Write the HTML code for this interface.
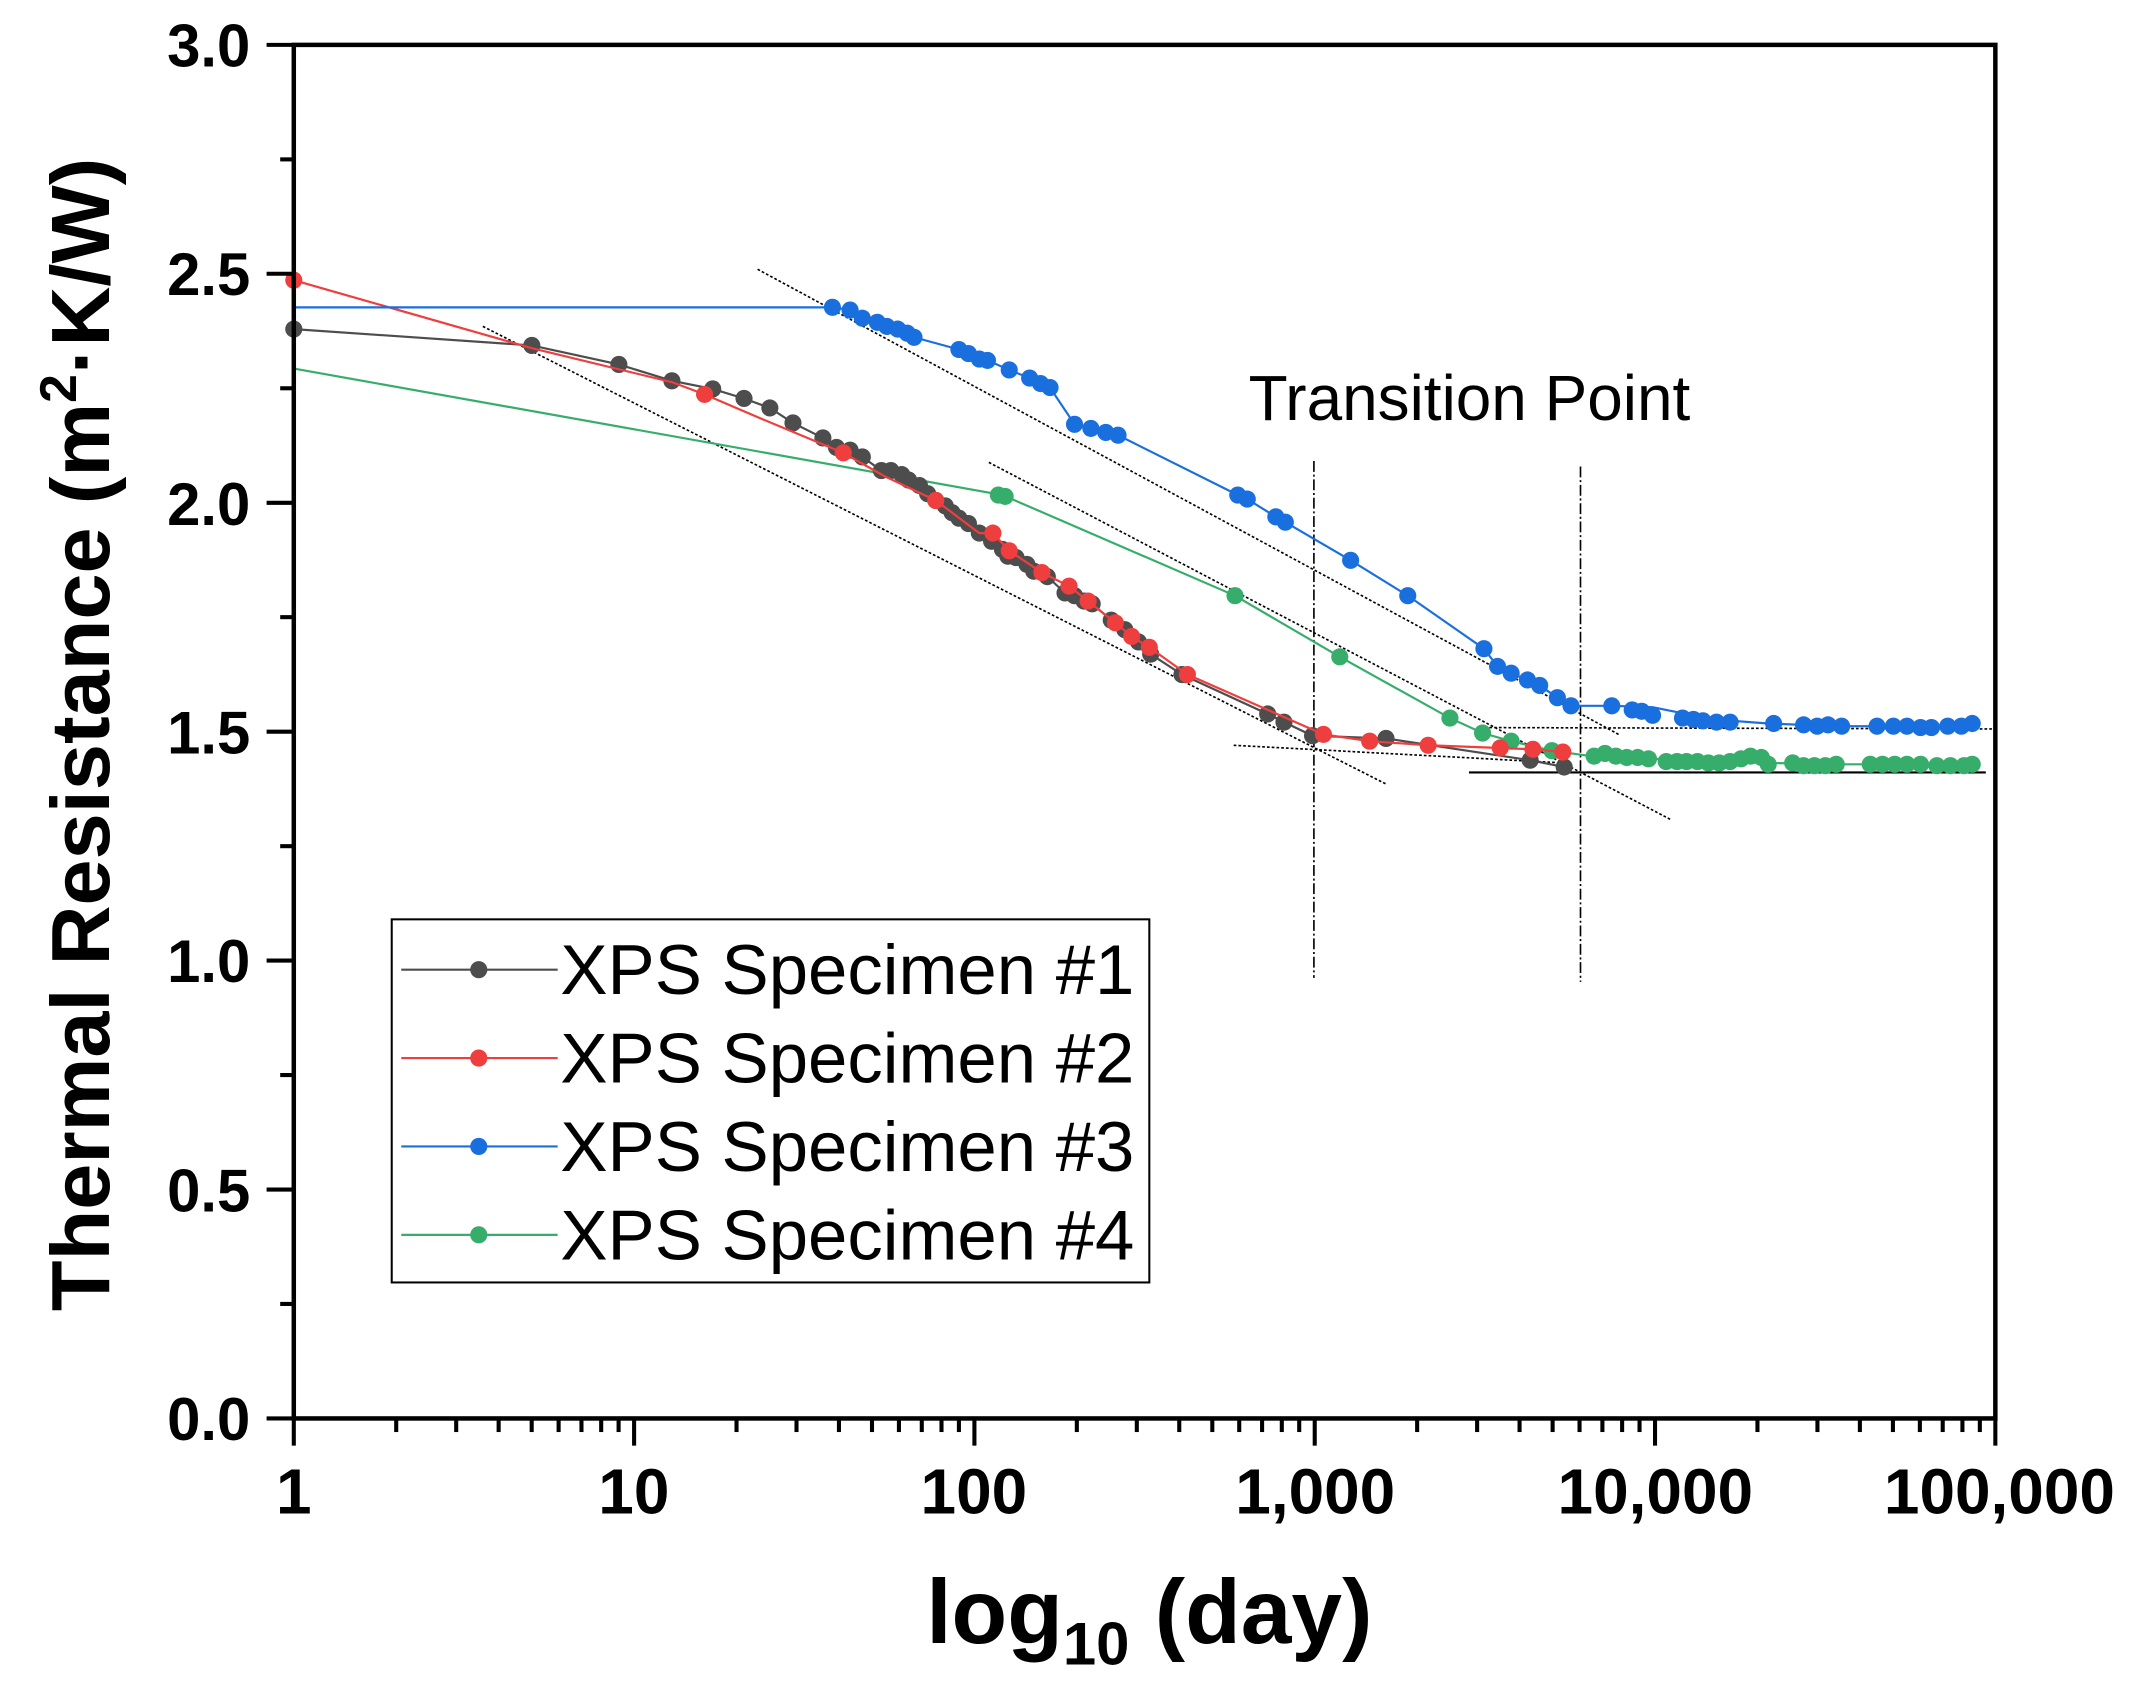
<!DOCTYPE html>
<html><head><meta charset="utf-8"><style>html,body{margin:0;padding:0;background:#fff}svg{display:block}</style></head>
<body>
<svg width="2130" height="1685" viewBox="0 0 1566 1239" preserveAspectRatio="none" xmlns="http://www.w3.org/2000/svg" font-family="Liberation Sans, Arial, sans-serif">
<rect x="0" y="0" width="1566" height="1239" fill="#fff"/>
<g stroke="#000" stroke-width="1.2" fill="none">
<line x1="355" y1="240" x2="1020" y2="577" stroke-dasharray="2,1.5"/>
<line x1="557" y1="198" x2="1190" y2="540" stroke-dasharray="2,1.5"/>
<line x1="727" y1="340" x2="1229" y2="603" stroke-dasharray="2,1.5"/>
<line x1="907" y1="548" x2="1150" y2="561" stroke-dasharray="2,1.5"/>
<line x1="1095" y1="535" x2="1467" y2="536" stroke-dasharray="2,1.5"/>
<line x1="1080" y1="568" x2="1460" y2="568" stroke-width="1.6"/>
<line x1="966" y1="339" x2="966" y2="719" stroke-dasharray="8,2,1.5,2"/>
<line x1="1162" y1="343" x2="1162" y2="722" stroke-dasharray="8,2,1.5,2"/>
</g>
<g fill="#37ad6b" stroke="none">
<polyline fill="none" stroke="#37ad6b" stroke-width="1.6" points="216,271 737,364 908,438 985,483 1066,528 1090,539 1111,545 1141,552 1170,556 1200,557 1250,560 1300,561 1350,562 1400,562 1450,562"/>
<circle cx="734" cy="364" r="6.3"/><circle cx="739" cy="365" r="6.3"/><circle cx="908" cy="438" r="6.3"/><circle cx="985" cy="483" r="6.3"/><circle cx="1066" cy="528" r="6.3"/><circle cx="1090" cy="539" r="6.3"/><circle cx="1111" cy="545" r="6.3"/><circle cx="1141" cy="552" r="6.3"/>
<circle cx="1172" cy="556" r="6.3"/><circle cx="1180" cy="554" r="6.3"/><circle cx="1188" cy="556" r="6.3"/><circle cx="1196" cy="557" r="6.3"/><circle cx="1204" cy="557" r="6.3"/><circle cx="1212" cy="558" r="6.3"/><circle cx="1225" cy="560" r="6.3"/><circle cx="1233" cy="560" r="6.3"/><circle cx="1240" cy="560" r="6.3"/><circle cx="1248" cy="560" r="6.3"/><circle cx="1256" cy="561" r="6.3"/><circle cx="1264" cy="561" r="6.3"/><circle cx="1272" cy="560" r="6.3"/><circle cx="1280" cy="558" r="6.3"/><circle cx="1287" cy="556" r="6.3"/><circle cx="1295" cy="557" r="6.3"/><circle cx="1300" cy="562" r="6.3"/>
<circle cx="1318" cy="561" r="6.3"/><circle cx="1326" cy="563" r="6.3"/><circle cx="1334" cy="563" r="6.3"/><circle cx="1342" cy="563" r="6.3"/><circle cx="1350" cy="562" r="6.3"/><circle cx="1375" cy="562" r="6.3"/><circle cx="1384" cy="562" r="6.3"/><circle cx="1393" cy="562" r="6.3"/><circle cx="1402" cy="562" r="6.3"/><circle cx="1412" cy="562" r="6.3"/><circle cx="1424" cy="563" r="6.3"/><circle cx="1434" cy="563" r="6.3"/><circle cx="1444" cy="563" r="6.3"/><circle cx="1450" cy="562" r="6.3"/>
</g>
<g fill="#4d4d4d">
<polyline fill="none" stroke="#4d4d4d" stroke-width="1.6" points="216,242 391,254 455,268 494,280 524,286 547,293 566,300 583,311 605,322 615,329 625,331 634,336 648,346 655,346 663,349 668,353 676,357 682,363 688,368 695,372 700,377 705,381 712,385 720,392 729,398 737,404 741,409 747,410 755,415 760,420 770,424 783,436 790,438 797,442 803,444 817,456 827,463 837,472 846,481 869,496 932,525 944,531 965,541 1019,543 1125,559 1150,564"/>
<circle cx="216" cy="242" r="6.3"/><circle cx="391" cy="254" r="6.3"/><circle cx="455" cy="268" r="6.3"/><circle cx="494" cy="280" r="6.3"/><circle cx="524" cy="286" r="6.3"/><circle cx="547" cy="293" r="6.3"/><circle cx="566" cy="300" r="6.3"/><circle cx="583" cy="311" r="6.3"/><circle cx="605" cy="322" r="6.3"/><circle cx="615" cy="329" r="6.3"/><circle cx="625" cy="331" r="6.3"/><circle cx="634" cy="336" r="6.3"/><circle cx="648" cy="346" r="6.3"/><circle cx="655" cy="346" r="6.3"/><circle cx="663" cy="349" r="6.3"/><circle cx="668" cy="353" r="6.3"/><circle cx="676" cy="357" r="6.3"/><circle cx="682" cy="363" r="6.3"/><circle cx="688" cy="368" r="6.3"/><circle cx="695" cy="372" r="6.3"/><circle cx="700" cy="377" r="6.3"/><circle cx="705" cy="381" r="6.3"/><circle cx="712" cy="385" r="6.3"/><circle cx="720" cy="392" r="6.3"/><circle cx="729" cy="398" r="6.3"/><circle cx="737" cy="404" r="6.3"/><circle cx="741" cy="409" r="6.3"/><circle cx="747" cy="410" r="6.3"/><circle cx="755" cy="415" r="6.3"/><circle cx="760" cy="420" r="6.3"/><circle cx="770" cy="424" r="6.3"/><circle cx="783" cy="436" r="6.3"/><circle cx="790" cy="438" r="6.3"/><circle cx="797" cy="442" r="6.3"/><circle cx="803" cy="444" r="6.3"/><circle cx="817" cy="456" r="6.3"/><circle cx="827" cy="463" r="6.3"/><circle cx="837" cy="472" r="6.3"/><circle cx="846" cy="481" r="6.3"/><circle cx="869" cy="496" r="6.3"/><circle cx="932" cy="525" r="6.3"/><circle cx="944" cy="531" r="6.3"/><circle cx="965" cy="541" r="6.3"/><circle cx="1019" cy="543" r="6.3"/><circle cx="1125" cy="559" r="6.3"/><circle cx="1150" cy="564" r="6.3"/>
</g>
<g fill="#ef3e3e">
<polyline fill="none" stroke="#ef3e3e" stroke-width="1.6" points="216,206 391,256 494,281 518,290 560,308 620,333 650,350 688,368 720,392 730,392 742,405 766,421 786,431 800,442 820,458 832,468 845,476 873,496 973,540 1007,545 1050,548 1103,550 1127,551 1149,553"/>
<circle cx="216" cy="206" r="6.3"/><circle cx="518" cy="290" r="6.3"/><circle cx="620" cy="333" r="6.3"/><circle cx="688" cy="368" r="6.3"/><circle cx="730" cy="392" r="6.3"/><circle cx="742" cy="405" r="6.3"/><circle cx="766" cy="421" r="6.3"/><circle cx="786" cy="431" r="6.3"/><circle cx="800" cy="442" r="6.3"/><circle cx="820" cy="458" r="6.3"/><circle cx="832" cy="468" r="6.3"/><circle cx="845" cy="476" r="6.3"/><circle cx="873" cy="496" r="6.3"/><circle cx="973" cy="540" r="6.3"/><circle cx="1007" cy="545" r="6.3"/><circle cx="1050" cy="548" r="6.3"/><circle cx="1103" cy="550" r="6.3"/><circle cx="1127" cy="551" r="6.3"/><circle cx="1149" cy="553" r="6.3"/>
</g>
<g fill="#1a6fdf">
<polyline fill="none" stroke="#1a6fdf" stroke-width="1.6" points="216,226 612,226 625,228 634,234 645,237 652,240 660,242 667,245 672,248 705,257 712,260 720,264 726,265 742,272 757,278 765,282 772,285 790,312 802,315 813,318 822,320 910,364 917,367 938,380 945,384 993,412 1035,438 1091,477 1101,490 1111,495 1123,500 1132,504 1145,513 1155,519 1185,519 1215,520 1230,523 1260,529 1300,532 1350,534 1450,534"/>
<circle cx="612" cy="226" r="6.3"/><circle cx="625" cy="228" r="6.3"/><circle cx="634" cy="234" r="6.3"/><circle cx="645" cy="237" r="6.3"/><circle cx="652" cy="240" r="6.3"/><circle cx="660" cy="242" r="6.3"/><circle cx="667" cy="245" r="6.3"/><circle cx="672" cy="248" r="6.3"/><circle cx="705" cy="257" r="6.3"/><circle cx="712" cy="260" r="6.3"/><circle cx="720" cy="264" r="6.3"/><circle cx="726" cy="265" r="6.3"/><circle cx="742" cy="272" r="6.3"/><circle cx="757" cy="278" r="6.3"/><circle cx="765" cy="282" r="6.3"/><circle cx="772" cy="285" r="6.3"/><circle cx="790" cy="312" r="6.3"/><circle cx="802" cy="315" r="6.3"/><circle cx="813" cy="318" r="6.3"/><circle cx="822" cy="320" r="6.3"/><circle cx="910" cy="364" r="6.3"/><circle cx="917" cy="367" r="6.3"/><circle cx="938" cy="380" r="6.3"/><circle cx="945" cy="384" r="6.3"/><circle cx="993" cy="412" r="6.3"/><circle cx="1035" cy="438" r="6.3"/><circle cx="1091" cy="477" r="6.3"/><circle cx="1101" cy="490" r="6.3"/><circle cx="1111" cy="495" r="6.3"/><circle cx="1123" cy="500" r="6.3"/><circle cx="1132" cy="504" r="6.3"/><circle cx="1145" cy="513" r="6.3"/><circle cx="1155" cy="519" r="6.3"/><circle cx="1185" cy="519" r="6.3"/><circle cx="1200" cy="522" r="6.3"/><circle cx="1207" cy="523" r="6.3"/><circle cx="1215" cy="526" r="6.3"/><circle cx="1237" cy="528" r="6.3"/><circle cx="1245" cy="529" r="6.3"/><circle cx="1252" cy="530" r="6.3"/><circle cx="1262" cy="531" r="6.3"/><circle cx="1272" cy="531" r="6.3"/><circle cx="1304" cy="532" r="6.3"/><circle cx="1326" cy="533" r="6.3"/><circle cx="1336" cy="534" r="6.3"/><circle cx="1344" cy="533" r="6.3"/><circle cx="1354" cy="534" r="6.3"/><circle cx="1380" cy="534" r="6.3"/><circle cx="1392" cy="534" r="6.3"/><circle cx="1402" cy="534" r="6.3"/><circle cx="1412" cy="535" r="6.3"/><circle cx="1420" cy="535" r="6.3"/><circle cx="1432" cy="534" r="6.3"/><circle cx="1442" cy="534" r="6.3"/><circle cx="1450" cy="532" r="6.3"/>
</g>
<rect x="216" y="33" width="1251" height="1010" fill="none" stroke="#000" stroke-width="3.3"/>
<g stroke="#000" stroke-width="3">
<line x1="196" y1="33" x2="216" y2="33"/><line x1="196" y1="201.3" x2="216" y2="201.3"/><line x1="196" y1="369.7" x2="216" y2="369.7"/><line x1="196" y1="538" x2="216" y2="538"/><line x1="196" y1="706.3" x2="216" y2="706.3"/><line x1="196" y1="874.7" x2="216" y2="874.7"/><line x1="196" y1="1043" x2="216" y2="1043"/>
<line x1="206" y1="117.2" x2="216" y2="117.2"/><line x1="206" y1="285.5" x2="216" y2="285.5"/><line x1="206" y1="453.8" x2="216" y2="453.8"/><line x1="206" y1="622.2" x2="216" y2="622.2"/><line x1="206" y1="790.5" x2="216" y2="790.5"/><line x1="206" y1="958.8" x2="216" y2="958.8"/>
<line x1="216" y1="1043" x2="216" y2="1063"/><line x1="466.2" y1="1043" x2="466.2" y2="1063"/><line x1="716.4" y1="1043" x2="716.4" y2="1063"/><line x1="966.6" y1="1043" x2="966.6" y2="1063"/><line x1="1216.8" y1="1043" x2="1216.8" y2="1063"/><line x1="1467" y1="1043" x2="1467" y2="1063"/>
</g>
<g stroke="#000" stroke-width="3">
<line x1="291.3" y1="1043" x2="291.3" y2="1053"/><line x1="335.4" y1="1043" x2="335.4" y2="1053"/><line x1="366.6" y1="1043" x2="366.6" y2="1053"/><line x1="390.9" y1="1043" x2="390.9" y2="1053"/><line x1="410.7" y1="1043" x2="410.7" y2="1053"/><line x1="427.5" y1="1043" x2="427.5" y2="1053"/><line x1="442" y1="1043" x2="442" y2="1053"/><line x1="454.8" y1="1043" x2="454.8" y2="1053"/>
<line x1="541.5" y1="1043" x2="541.5" y2="1053"/><line x1="585.6" y1="1043" x2="585.6" y2="1053"/><line x1="616.8" y1="1043" x2="616.8" y2="1053"/><line x1="641.1" y1="1043" x2="641.1" y2="1053"/><line x1="660.9" y1="1043" x2="660.9" y2="1053"/><line x1="677.7" y1="1043" x2="677.7" y2="1053"/><line x1="692.2" y1="1043" x2="692.2" y2="1053"/><line x1="705" y1="1043" x2="705" y2="1053"/>
<line x1="791.7" y1="1043" x2="791.7" y2="1053"/><line x1="835.8" y1="1043" x2="835.8" y2="1053"/><line x1="867" y1="1043" x2="867" y2="1053"/><line x1="891.3" y1="1043" x2="891.3" y2="1053"/><line x1="911.1" y1="1043" x2="911.1" y2="1053"/><line x1="927.9" y1="1043" x2="927.9" y2="1053"/><line x1="942.4" y1="1043" x2="942.4" y2="1053"/><line x1="955.2" y1="1043" x2="955.2" y2="1053"/>
<line x1="1041.9" y1="1043" x2="1041.9" y2="1053"/><line x1="1086" y1="1043" x2="1086" y2="1053"/><line x1="1117.2" y1="1043" x2="1117.2" y2="1053"/><line x1="1141.5" y1="1043" x2="1141.5" y2="1053"/><line x1="1161.3" y1="1043" x2="1161.3" y2="1053"/><line x1="1178.1" y1="1043" x2="1178.1" y2="1053"/><line x1="1192.6" y1="1043" x2="1192.6" y2="1053"/><line x1="1205.4" y1="1043" x2="1205.4" y2="1053"/>
<line x1="1292.1" y1="1043" x2="1292.1" y2="1053"/><line x1="1336.2" y1="1043" x2="1336.2" y2="1053"/><line x1="1367.4" y1="1043" x2="1367.4" y2="1053"/><line x1="1391.7" y1="1043" x2="1391.7" y2="1053"/><line x1="1411.5" y1="1043" x2="1411.5" y2="1053"/><line x1="1428.3" y1="1043" x2="1428.3" y2="1053"/><line x1="1442.8" y1="1043" x2="1442.8" y2="1053"/><line x1="1455.6" y1="1043" x2="1455.6" y2="1053"/>
</g>
<g font-size="44" font-weight="bold" text-anchor="end" fill="#000">
<text x="184" y="49">3.0</text><text x="184" y="217">2.5</text><text x="184" y="386">2.0</text><text x="184" y="554">1.5</text><text x="184" y="722">1.0</text><text x="184" y="891">0.5</text><text x="184" y="1059">0.0</text>
</g>
<g font-size="47" font-weight="bold" text-anchor="middle" fill="#000">
<text x="216" y="1113">1</text><text x="466" y="1113">10</text><text x="716" y="1113">100</text><text x="967" y="1113">1,000</text><text x="1217" y="1113">10,000</text><text x="1470" y="1113">100,000</text>
</g>
<text x="845" y="1208" font-size="67" font-weight="bold" text-anchor="middle">log<tspan font-size="44" dy="16">10</tspan><tspan dy="-16"> (day)</tspan></text>
<text transform="translate(80,540) rotate(-90)" font-size="61" font-weight="bold" text-anchor="middle">Thermal Resistance (m<tspan font-size="38" dy="-24">2</tspan><tspan dy="24">·K/W)</tspan></text>
<text x="918" y="309" font-size="47">Transition Point</text>
<rect x="288" y="676" width="557" height="267" fill="#fff" stroke="#000" stroke-width="1.5"/>
<g stroke-width="1.6">
<line x1="295" y1="713" x2="410" y2="713" stroke="#4d4d4d"/><circle cx="352" cy="713" r="6.3" fill="#4d4d4d"/>
<line x1="295" y1="778" x2="410" y2="778" stroke="#ef3e3e"/><circle cx="352" cy="778" r="6.3" fill="#ef3e3e"/>
<line x1="295" y1="843" x2="410" y2="843" stroke="#1a6fdf"/><circle cx="352" cy="843" r="6.3" fill="#1a6fdf"/>
<line x1="295" y1="908" x2="410" y2="908" stroke="#37ad6b"/><circle cx="352" cy="908" r="6.3" fill="#37ad6b"/>
</g>
<g font-size="52" fill="#000">
<text x="412" y="731">XPS Specimen #1</text><text x="412" y="796">XPS Specimen #2</text><text x="412" y="861">XPS Specimen #3</text><text x="412" y="926">XPS Specimen #4</text>
</g>
</svg>
</body></html>
